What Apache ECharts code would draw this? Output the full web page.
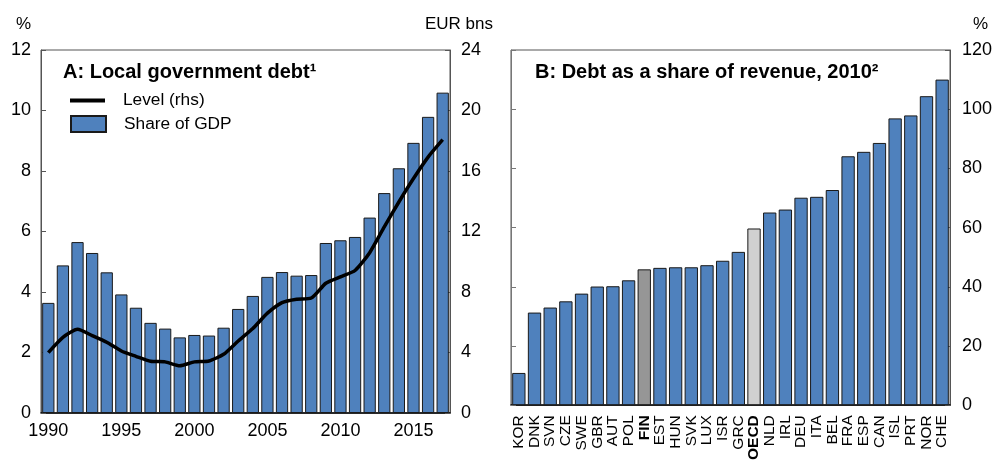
<!DOCTYPE html>
<html>
<head>
<meta charset="utf-8">
<script src="https://cdn.jsdelivr.net/npm/echarts@6/dist/echarts.min.js"></script>
<style>
  html, body { margin: 0; padding: 0; background: #fff; }
  #main { width: 998px; height: 463px; }
</style>
</head>
<body>
<div id="main"></div>
<script>
// Panel A: local government debt, 1990-2017
const years = ['1990', '1991', '1992', '1993', '1994', '1995', '1996', '1997', '1998', '1999',
  '2000', '2001', '2002', '2003', '2004', '2005', '2006', '2007', '2008', '2009',
  '2010', '2011', '2012', '2013', '2014', '2015', '2016', '2017'];
const shareOfGdp = [3.64, 4.88, 5.65, 5.29, 4.65, 3.92, 3.48, 2.98, 2.79, 2.50,
  2.58, 2.56, 2.82, 3.44, 3.87, 4.50, 4.66, 4.54, 4.56, 5.62,
  5.71, 5.82, 6.46, 7.27, 8.09, 8.93, 9.79, 10.59];
const levelRhs = [3.99, 5.0, 5.53, 5.12, 4.68, 4.1, 3.75, 3.42, 3.38, 3.12,
  3.38, 3.44, 3.88, 4.76, 5.58, 6.6, 7.3, 7.52, 7.6, 8.58,
  9.0, 9.42, 10.6, 12.3, 13.95, 15.5, 16.92, 18.07];

// Panel B: debt as a share of revenue, 2010
const countries = ['KOR', 'DNK', 'SVN', 'CZE', 'SWE', 'GBR', 'AUT', 'POL', 'FIN', 'EST',
  'HUN', 'SVK', 'LUX', 'ISR', 'GRC', 'OECD', 'NLD', 'IRL', 'DEU', 'ITA',
  'BEL', 'FRA', 'ESP', 'CAN', 'ISL', 'PRT', 'NOR', 'CHE'];
const debtToRevenue = [10.9, 31.3, 33.0, 35.1, 37.7, 40.1, 40.2, 42.2, 45.9, 46.4,
  46.6, 46.6, 47.3, 48.8, 51.8, 59.7, 65.1, 66.1, 70.1, 70.4,
  72.7, 84.1, 85.6, 88.6, 96.9, 97.9, 104.4, 110.0];

const leftTicks = { min: 0, max: 12, interval: 2 };
const rightTicks = { min: 0, max: 24, interval: 4 };
const panelBTicks = { min: 0, max: 120, interval: 20 };

const BLUE = '#4F81BD';
const FONT = 'Liberation Sans, Arial, sans-serif';

let myChart = echarts.init(document.getElementById('main'));

const labelStyle = { color: '#000', fontSize: 18, fontFamily: FONT };
const titleStyle = { fontSize: 20, fontWeight: 'bold', color: '#000', fontFamily: FONT };
const legendText = { fontSize: 17.3, color: '#000', fontFamily: FONT, padding: [0, 0, 0, 13] };
const unitStyle = { fontSize: 17, fill: '#000', fontFamily: FONT };

function barColour(name) {
  if (name === 'FIN') return '#969696';
  if (name === 'OECD') return '#D0D0D0';
  return BLUE;
}

let option = {
  animation: false,
  textStyle: { fontFamily: FONT },
  title: [
    { text: 'A: Local government debt¹', left: 63, top: 62, padding: 0, textStyle: titleStyle },
    { text: 'B: Debt as a share of revenue, 2010²', left: 535, top: 62, padding: 0, textStyle: titleStyle }
  ],
  legend: [
    {
      left: 70, top: 92, padding: 0,
      icon: 'rect', itemWidth: 35, itemHeight: 4, itemGap: 0,
      textStyle: legendText,
      data: ['Level (rhs)']
    },
    {
      left: 70, top: 115, padding: 0,
      icon: 'rect', itemWidth: 35, itemHeight: 16, itemGap: 0,
      textStyle: legendText,
      data: ['Share of GDP']
    }
  ],
  graphic: [
    { type: 'text', left: 16, top: 16, style: Object.assign({ text: '%' }, unitStyle) },
    { type: 'text', left: 425, top: 16, style: Object.assign({ text: 'EUR bns' }, unitStyle) },
    { type: 'text', left: 973, top: 16, style: Object.assign({ text: '%' }, unitStyle) }
  ],
  grid: [
    { left: 41, right: 548, top: 50, bottom: 50, show: true, borderColor: '#555', borderWidth: 1 },
    { left: 511, right: 48, top: 50, bottom: 50, show: true, borderColor: '#555', borderWidth: 1 }
  ],
  xAxis: [
    {
      type: 'category', gridIndex: 0, data: years,
      axisLine: { lineStyle: { color: '#000', width: 1.5 } },
      axisTick: { show: false },
      axisLabel: Object.assign({ interval: 4, margin: 9 }, labelStyle)
    },
    {
      type: 'category', gridIndex: 1, data: countries,
      axisLine: { lineStyle: { color: '#000', width: 1.5 } },
      axisTick: { show: false },
      axisLabel: {
        interval: 0, rotate: 90, margin: 10,
        color: '#000', fontSize: 15.5, fontFamily: FONT,
        formatter: function (v) {
          return (v === 'FIN' || v === 'OECD') ? '{b|' + v + '}' : v;
        },
        rich: { b: { fontWeight: 'bold', fontSize: 15.5, color: '#000', fontFamily: FONT } }
      }
    }
  ],
  yAxis: [
    {
      type: 'value', gridIndex: 0, position: 'left',
      min: leftTicks.min, max: leftTicks.max, interval: leftTicks.interval,
      axisLine: { show: true, lineStyle: { color: '#555' } },
      axisTick: { show: true, inside: true, length: 5, lineStyle: { color: '#555' } },
      splitLine: { show: false },
      axisLabel: Object.assign({ margin: 10 }, labelStyle)
    },
    {
      type: 'value', gridIndex: 0, position: 'right',
      min: rightTicks.min, max: rightTicks.max, interval: rightTicks.interval,
      axisLine: { show: true, lineStyle: { color: '#555' } },
      axisTick: { show: true, inside: true, length: 5, lineStyle: { color: '#555' } },
      splitLine: { show: false },
      axisLabel: Object.assign({ margin: 11 }, labelStyle)
    },
    {
      type: 'value', gridIndex: 1, position: 'right',
      min: panelBTicks.min, max: panelBTicks.max, interval: panelBTicks.interval,
      axisLine: { show: true, lineStyle: { color: '#555' } },
      axisTick: { show: true, inside: true, length: 5, lineStyle: { color: '#555' } },
      splitLine: { show: false },
      axisLabel: Object.assign({ margin: 12 }, labelStyle)
    },
    {
      type: 'value', gridIndex: 1, position: 'left',
      min: panelBTicks.min, max: panelBTicks.max, interval: panelBTicks.interval,
      axisLine: { show: true, lineStyle: { color: '#777' } },
      axisTick: { show: true, inside: true, length: 5, lineStyle: { color: '#777' } },
      splitLine: { show: false },
      axisLabel: { show: false }
    }
  ],
  series: [
    {
      name: 'Share of GDP',
      type: 'bar',
      xAxisIndex: 0, yAxisIndex: 0,
      data: shareOfGdp,
      barCategoryGap: '16%',
      itemStyle: { color: BLUE, borderColor: '#1a1a1a', borderWidth: 1 }
    },
    {
      name: 'Level (rhs)',
      type: 'line',
      xAxisIndex: 0, yAxisIndex: 1,
      data: levelRhs,
      symbol: 'none',
      smooth: 0.2,
      lineStyle: { color: '#000', width: 3.5 },
      itemStyle: { color: '#000' },
      z: 5
    },
    {
      name: 'Debt as a share of revenue',
      type: 'bar',
      xAxisIndex: 1, yAxisIndex: 2,
      data: debtToRevenue.map(function (v, i) {
        return { value: v, itemStyle: { color: barColour(countries[i]) } };
      }),
      barCategoryGap: '15%',
      itemStyle: { color: BLUE, borderColor: '#1a1a1a', borderWidth: 1 }
    }
  ]
};

myChart.clear();
myChart.setOption(option);
</script>
</body>
</html>
